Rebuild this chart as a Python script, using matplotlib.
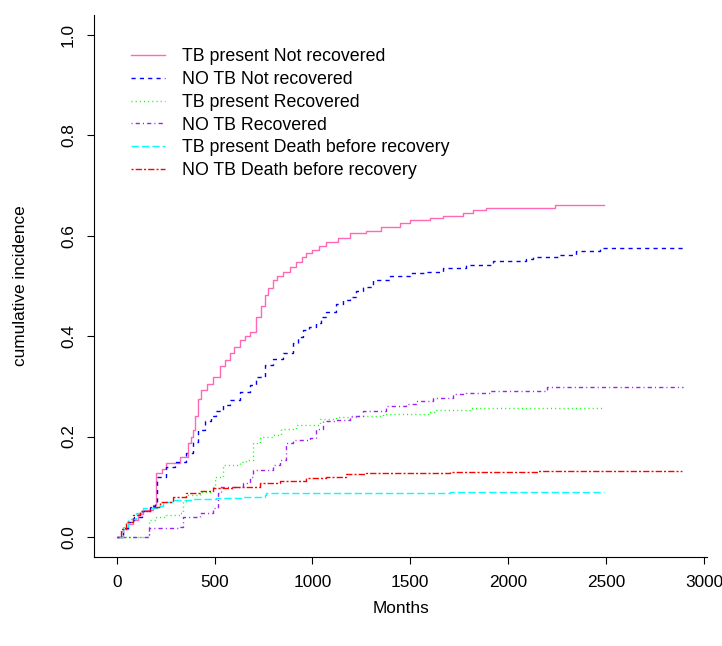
import numpy as np
import matplotlib
matplotlib.use('Agg')
import matplotlib.pyplot as plt

plt.rcParams['font.family'] = ['Liberation Sans', 'DejaVu Sans']
plt.rcParams['lines.scale_dashes'] = False

# curvas de incidencia acumulada (tiempo en meses, valor tras cada salto)
t_tb_nr = [0, 30, 60, 84, 110, 135, 186, 200, 230, 254, 322, 364, 380, 390, 400, 415, 433, 460, 491, 530,
           555, 578, 600, 628, 655, 680, 714, 735, 756, 775, 798, 820, 850, 885, 918, 945, 969, 1000, 1035,
           1071, 1130, 1191, 1276, 1350, 1446, 1497, 1600, 1667, 1769, 1821, 1889, 2238, 2490]
v_tb_nr = [0, 0.015, 0.025, 0.034, 0.045, 0.054, 0.064, 0.127, 0.135, 0.147, 0.16, 0.187, 0.2, 0.213, 0.24,
           0.275, 0.293, 0.305, 0.319, 0.34, 0.352, 0.366, 0.378, 0.392, 0.401, 0.409, 0.439, 0.46, 0.482,
           0.497, 0.512, 0.52, 0.528, 0.538, 0.548, 0.557, 0.565, 0.572, 0.58, 0.588, 0.595, 0.605, 0.61,
           0.617, 0.625, 0.631, 0.635, 0.639, 0.645, 0.651, 0.656, 0.661, 0.661]

t_notb_nr = [0, 30, 60, 90, 130, 170, 194, 205, 254, 300, 356, 390, 416, 450, 480, 509, 545, 578, 630, 680,
             714, 756, 800, 850, 900, 925, 952, 985, 1020, 1045, 1071, 1123, 1155, 1191, 1225, 1259, 1310,
             1395, 1497, 1582, 1667, 1787, 1923, 2093, 2127, 2264, 2349, 2468, 2621, 2893]
v_notb_nr = [0, 0.018, 0.03, 0.04, 0.052, 0.062, 0.068, 0.12, 0.14, 0.15, 0.167, 0.19, 0.213, 0.23, 0.24,
             0.25, 0.262, 0.273, 0.288, 0.303, 0.319, 0.343, 0.355, 0.366, 0.386, 0.399, 0.412, 0.419,
             0.426, 0.438, 0.449, 0.465, 0.472, 0.479, 0.49, 0.499, 0.512, 0.519, 0.525, 0.528, 0.535,
             0.542, 0.550, 0.554, 0.558, 0.562, 0.570, 0.575, 0.576, 0.580]

t_tb_rec = [0, 165, 200, 254, 322, 339, 356, 424, 492, 501, 543, 628, 662, 697, 731, 799, 841, 918, 1037,
            1123, 1225, 1361, 1600, 1630, 1804, 2490]
v_tb_rec = [0, 0.034, 0.04, 0.044, 0.047, 0.07, 0.084, 0.09, 0.10, 0.12, 0.143, 0.15, 0.153, 0.187, 0.2,
            0.203, 0.216, 0.223, 0.234, 0.238, 0.241, 0.245, 0.248, 0.253, 0.256, 0.256]

t_notb_rec = [0, 165, 322, 339, 424, 492, 518, 535, 645, 680, 697, 799, 833, 867, 901, 986, 1020, 1054,
              1123, 1191, 1259, 1378, 1480, 1531, 1616, 1719, 1787, 1906, 2076, 2196, 2451, 2894]
v_notb_rec = [0, 0.017, 0.02, 0.04, 0.047, 0.057, 0.087, 0.10, 0.107, 0.12, 0.133, 0.143, 0.153, 0.187,
              0.193, 0.197, 0.216, 0.23, 0.233, 0.24, 0.25, 0.261, 0.265, 0.27, 0.276, 0.284, 0.286, 0.29,
              0.291, 0.298, 0.299, 0.299]

t_tb_death = [0, 30, 60, 100, 135, 211, 237, 288, 390, 509, 645, 756, 765, 1702, 2490]
v_tb_death = [0, 0.02, 0.035, 0.047, 0.057, 0.062, 0.07, 0.074, 0.076, 0.077, 0.08, 0.084, 0.088, 0.089,
              0.089]

t_notb_death = [0, 20, 50, 84, 120, 169, 220, 288, 356, 424, 492, 594, 731, 833, 969, 1071, 1174, 1276,
                1702, 2153, 2890]
v_notb_death = [0, 0.015, 0.03, 0.044, 0.052, 0.06, 0.07, 0.08, 0.087, 0.092, 0.097, 0.10, 0.107, 0.112,
                0.117, 0.12, 0.125, 0.127, 0.129, 0.131, 0.131]

etiquetas = ['TB present Not recovered', 'NO TB Not recovered', 'TB present Recovered',
             'NO TB Recovered', 'TB present Death before recovery', 'NO TB Death before recovery']
colores = ['#FF69B4', '#0000FF', '#00FF00', '#A020F0', '#00FFFF', '#FF0000']
# estilos de linea tipo R (lty 1..6)
estilos = ['-', (0, (3, 3)), (0, (0.75, 2.25)), (0, (0.75, 2.25, 3, 2.25)),
           (0, (5.25, 2.25)), (0, (1.5, 1.5, 4.5, 1.5))]

curvas = [(t_tb_nr, v_tb_nr), (t_notb_nr, v_notb_nr), (t_tb_rec, v_tb_rec),
          (t_notb_rec, v_notb_rec), (t_tb_death, v_tb_death), (t_notb_death, v_notb_death)]

fs = 12.4

fig = plt.figure(figsize=(7.22, 6.46), dpi=100)
ax = fig.add_axes([94 / 722, 1 - 557 / 646, (707 - 94) / 722, (557 - 15) / 646])

for (t, v), lab, c, ls in zip(curvas, etiquetas, colores, estilos):
    ax.step(t, v, where='post', color=c, linestyle=ls, linewidth=1.0, label=lab)

ax.set_xlim(-116, 3016)
ax.set_ylim(-0.04, 1.04)
ax.set_xticks([0, 500, 1000, 1500, 2000, 2500, 3000])
ax.set_yticks([0.0, 0.2, 0.4, 0.6, 0.8, 1.0])
ax.set_yticklabels(['0.0', '0.2', '0.4', '0.6', '0.8', '1.0'], rotation=90, va='center')
ax.tick_params(direction='out', length=5, width=0.8, labelsize=fs, pad=8)
ax.spines['top'].set_visible(False)
ax.spines['right'].set_visible(False)
ax.set_xlabel('Months', fontsize=fs, labelpad=8)
ax.set_ylabel('cumulative incidence', fontsize=fs, labelpad=24)

ax.legend(loc='upper left', bbox_to_anchor=(131 / 722, 1 - 48 / 646), bbox_transform=fig.transFigure,
          frameon=False, fontsize=12.8, handlelength=1.9, handletextpad=0.95, labelspacing=0.33,
          borderpad=0, borderaxespad=0)

plt.savefig('out.png', dpi=100)
